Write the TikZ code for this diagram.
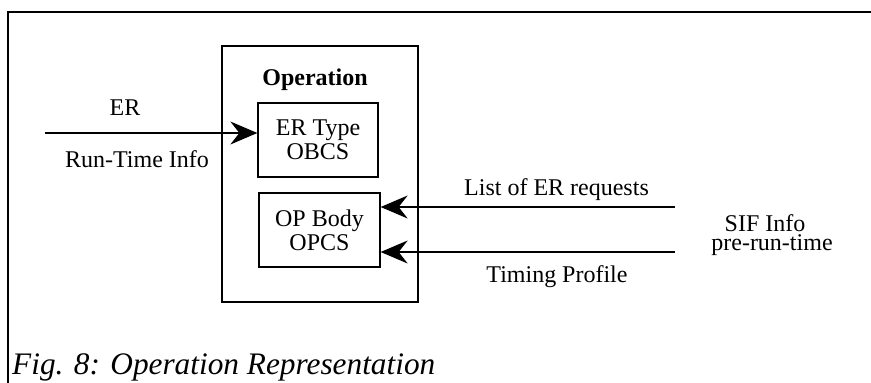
\documentclass[tikz,border=0pt]{standalone}
\usepackage{fontspec}
\setmainfont{Liberation Serif}
\usetikzlibrary{arrows.meta}
\begin{document}
\begin{tikzpicture}[x=1pt,y=-1pt,
  txt/.style={font=\fontsize{24}{24}\selectfont, inner sep=0pt},
  box/.style={draw, line width=1.3pt, align=center, inner sep=0pt,
    font=\fontsize{24}{24}\selectfont},
  flow/.style={line width=1.3pt, -{Stealth[length=27pt, width=23pt, inset=9pt]}}]
\useasboundingbox (0,0) rectangle (871,383);

% frame
\draw[line width=2pt] (8,383) -- (8,12) -- (871,12);

% operation container and its two parts
\node[box, minimum width=196pt, minimum height=256pt] (op) at (320,174) {};
\node[txt, font=\fontsize{24}{24}\selectfont\bfseries, anchor=base] (optitle) at (315,85) {Operation};
\node[box, minimum width=120pt, minimum height=74pt] (ertype) at (318,140) {ER Type\\OBCS};
\node[box, minimum width=121pt, minimum height=74pt] (opbody) at (319.5,230) {OP Body\\OPCS};

% run-time input
\coordinate (erstart) at (45,133);
\draw[flow] (erstart) -- (erstart -| ertype.west);
\node[txt, anchor=base] (erlbl) at (125,115) {ER};
\node[txt, anchor=base] (rtlbl) at (137,167) {Run-Time Info};

% pre-run-time inputs
\coordinate (reqstart) at (675,207);
\coordinate (tpstart) at (675,252);
\draw[flow] (reqstart) -- (reqstart -| opbody.east);
\draw[flow] (tpstart) -- (tpstart -| opbody.east);
\node[txt, anchor=base] (reqlbl) at (556.5,195) {List of ER requests};
\node[txt, anchor=base] (tplbl) at (557,282) {Timing Profile};
\node[txt, anchor=base] (siflbl) at (765,231) {SIF Info};
\node[txt, anchor=base] (prelbl) at (772,250.5) {pre-run-time};

% caption
\node[inner sep=0pt, anchor=base west, font=\fontsize{31.3}{32}\selectfont\itshape] (caption) at (12,374) {Fig. 8: Operation Representation};
\end{tikzpicture}
\end{document}
